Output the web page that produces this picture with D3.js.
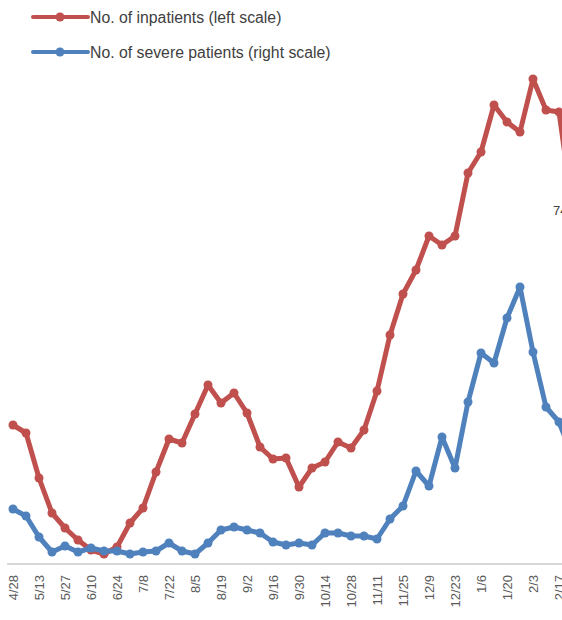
<!DOCTYPE html>
<html>
<head>
<meta charset="utf-8">
<script src="https://cdn.jsdelivr.net/npm/d3@7"></script>
<style>
  body { margin: 0; background: #fff; }
  svg { display: block; font-family: "Liberation Sans", Arial, sans-serif; }
</style>
</head>
<body>
<div class="chart"></div>
<script>
// weekly dates (last one sits past the right edge, like the cropped original)
const dates = ["4/28","5/6","5/13","5/20","5/27","6/3","6/10","6/17","6/24","7/1",
  "7/8","7/15","7/22","7/29","8/5","8/12","8/19","8/26","9/2","9/9",
  "9/16","9/23","9/30","10/7","10/14","10/21","10/28","11/4","11/11","11/18",
  "11/25","12/2","12/9","12/16","12/23","12/30","1/6","1/13","1/20","1/27",
  "2/3","2/10","2/17","2/24"];

// left scale
const inpatients = [4200,3960,2610,1560,1110,750,450,330,540,1260,
  1710,2790,3780,3660,4530,5400,4860,5160,4560,3540,
  3180,3210,2340,2910,3090,3690,3510,4050,5220,6900,
  8130,8850,9870,9600,9870,11760,12390,13800,13290,12990,
  14580,13650,13590,10800];

// right scale
const severe = [112,98,56,26,38,26,34,28,28,22,
  26,28,44,28,22,44,70,76,70,64,
  46,40,44,40,64,64,58,58,52,92,
  118,188,158,256,194,326,424,404,494,556,
  426,316,286,220];

const seriesNames = ["No. of inpatients (left scale)", "No. of severe patients (right scale)"];
const colors = ["#C0504D", "#4F81BD"];

const width = 562, height = 620;
const baseY = 565;

const svg = d3.select(".chart").append("svg")
    .attr("width", width)
    .attr("height", height);

const xScale = d3.scalePoint()
    .domain(dates)
    .range([13, 13 + 13 * (dates.length - 1)]);

const yLeft = d3.scaleLinear()
    .domain([0, 15000])
    .range([baseY, 65]);

const yRight = d3.scaleLinear()
    .domain([0, 1000])
    .range([baseY, 65]);

// baseline
svg.append("line")
    .attr("x1", 7).attr("x2", width)
    .attr("y1", baseY - 1).attr("y2", baseY - 1)
    .attr("stroke", "#d9d9d9")
    .attr("stroke-width", 2);

// x axis labels, every other week, rotated
const xAxis = d3.axisBottom(xScale)
    .tickValues(dates.filter((d, i) => i % 2 === 0))
    .tickSize(0)
    .tickPadding(0);

const gx = svg.append("g")
    .attr("class", "axis x-axis")
    .attr("transform", "translate(0," + baseY + ")")
    .call(xAxis);
gx.select(".domain").remove();
gx.selectAll("text")
    .attr("transform", "rotate(-90)")
    .attr("x", -10)
    .attr("y", 0)
    .attr("dy", "0.35em")
    .attr("text-anchor", "end")
    .style("font-size", "13px")
    .style("font-family", "'Liberation Sans', Arial, sans-serif")
    .attr("fill", "#595959");

function drawSeries(values, y, color) {
    const pts = dates.map((d, i) => [xScale(d), y(values[i])]);
    svg.append("path")
        .attr("d", d3.line()(pts))
        .attr("fill", "none")
        .attr("stroke", color)
        .attr("stroke-width", 5)
        .attr("stroke-linejoin", "round")
        .attr("stroke-linecap", "round");
    svg.append("g").selectAll("circle")
        .data(pts)
        .enter()
        .append("circle")
            .attr("cx", d => d[0])
            .attr("cy", d => d[1])
            .attr("r", 4.5)
            .attr("fill", color);
}

drawSeries(inpatients, yLeft, colors[0]);
drawSeries(severe, yRight, colors[1]);

// cut-off data label at the right edge (cropped in the original too)
svg.append("text")
    .attr("x", 553)
    .attr("y", 215)
    .attr("fill", "#404040")
    .style("font-size", "13px")
    .text("74");

// legend
const legend = svg.append("g").attr("class", "legend");
seriesNames.forEach(function(name, i) {
    const ly = 17 + i * 35;
    legend.append("line")
        .attr("x1", 33).attr("x2", 88)
        .attr("y1", ly).attr("y2", ly)
        .attr("stroke", colors[i])
        .attr("stroke-width", 4)
        .attr("stroke-linecap", "round");
    legend.append("circle")
        .attr("cx", 60).attr("cy", ly)
        .attr("r", 4.5)
        .attr("fill", colors[i]);
    legend.append("text")
        .attr("x", 90)
        .attr("y", ly)
        .attr("dy", "0.35em")
        .attr("fill", "#404040")
        .style("font-size", "15.8px")
        .text(name);
});
</script>
</body>
</html>
